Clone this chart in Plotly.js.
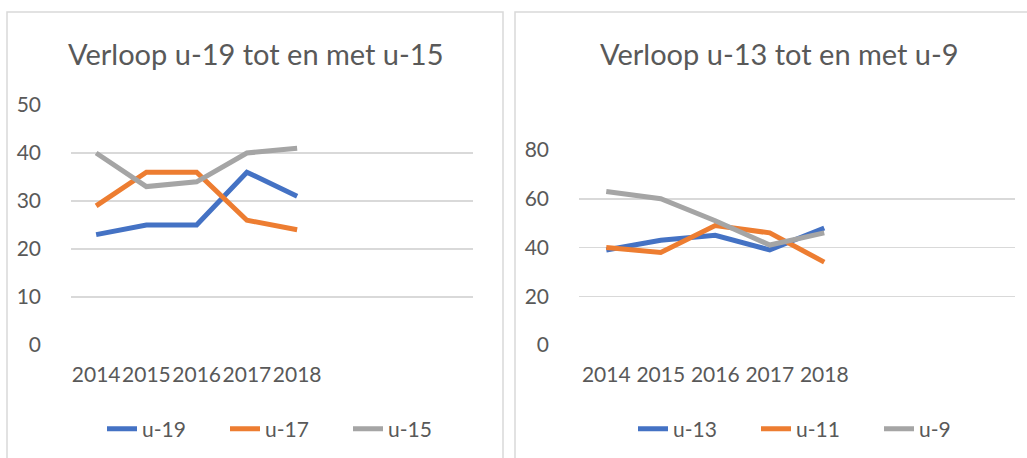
<!DOCTYPE html>
<html>
<head>
<meta charset="utf-8">
<script src="https://cdn.plot.ly/plotly-3.0.1.min.js"></script>
<style>html,body{margin:0;padding:0;background:#fff;}#chart{width:1027px;height:458px;}</style>
</head>
<body>
<div id="chart"></div>
<script>
// Data
const years = ["2014", "2015", "2016", "2017", "2018"];
const leftSeriesNames = ["u-19", "u-17", "u-15"];
const u19 = [23, 25, 25, 36, 31];
const u17 = [29, 36, 36, 26, 24];
const u15 = [40, 33, 34, 40, 41];
const rightSeriesNames = ["u-13", "u-11", "u-9"];
const u13 = [39, 43, 45, 39, 48];
const u11 = [40, 38, 49, 46, 34];
const u9  = [63, 60, 51, 41, 46];
const leftTitle = "Verloop u-19 tot en met u-15";
const rightTitle = "Verloop u-13 tot en met u-9";

const colors = ["#4472C4", "#ED7D31", "#A5A5A5"];
const FONT = "Lato, 'Open Sans', sans-serif";
const TXT = "#595959";
const W = 1027, H = 458;
const px = v => v / W;
const py = v => (H - v) / H;

const leftData = [u19, u17, u15];
const rightData = [u13, u11, u9];
const traces = [];
leftData.forEach((ys, i) => traces.push({
  x: years, y: ys, name: leftSeriesNames[i], type: "scatter", mode: "lines",
  line: {color: colors[i], width: 5}, xaxis: "x", yaxis: "y", legend: "legend"
}));
rightData.forEach((ys, i) => traces.push({
  x: years, y: ys, name: rightSeriesNames[i], type: "scatter", mode: "lines",
  line: {color: colors[i], width: 5}, xaxis: "x2", yaxis: "y2", legend: "legend2"
}));

const xCommon = {
  type: "category", range: [-0.5, 7.5], showgrid: false, zeroline: false,
  showline: false, ticks: "", ticklabelstandoff: 15, tickangle: 0,
  tickfont: {family: FONT, size: 21, color: TXT}, fixedrange: true
};
const yCommon = {
  showgrid: true, gridcolor: "#D9D9D9", gridwidth: 1.5, zeroline: false,
  showline: false, ticks: "", ticklabelstandoff: 29,
  tickfont: {family: FONT, size: 21, color: TXT}, fixedrange: true
};

const legendCommon = {
  orientation: "h", xanchor: "left", yanchor: "middle",
  font: {family: FONT, size: 21, color: TXT}, bgcolor: "rgba(0,0,0,0)",
  entrywidth: 78, entrywidthmode: "pixels", traceorder: "normal", itemwidth: 30
};

const layout = {
  width: W, height: H,
  margin: {l: 0, r: 0, t: 0, b: 0},
  paper_bgcolor: "#fff", plot_bgcolor: "rgba(0,0,0,0)",
  showlegend: true,
  xaxis: Object.assign({}, xCommon, {domain: [px(71), px(473)], anchor: "y"}),
  yaxis: Object.assign({}, yCommon, {domain: [py(345), py(105)], range: [0, 50], dtick: 10, anchor: "x"}),
  xaxis2: Object.assign({}, xCommon, {domain: [px(579), px(1015)], anchor: "y2"}),
  yaxis2: Object.assign({}, yCommon, {domain: [py(345), py(150)], range: [0, 80], dtick: 20, anchor: "x2"}),
  legend: Object.assign({}, legendCommon, {x: px(102), y: py(429)}),
  legend2: Object.assign({}, legendCommon, {x: px(633), y: py(429)}),
  annotations: [
    {text: leftTitle, xref: "paper", yref: "paper", x: px(255), y: py(53), xanchor: "center", yanchor: "middle",
     showarrow: false, font: {family: FONT, size: 29, color: TXT}},
    {text: rightTitle, xref: "paper", yref: "paper", x: px(779), y: py(53), xanchor: "center", yanchor: "middle",
     showarrow: false, font: {family: FONT, size: 29, color: TXT}}
  ],
  shapes: [
    {type: "rect", xref: "paper", yref: "paper", x0: px(7), x1: px(503), y0: -0.1, y1: py(12),
     line: {color: "#D9D9D9", width: 1.5}, fillcolor: "rgba(0,0,0,0)", layer: "below"},
    {type: "rect", xref: "paper", yref: "paper", x0: px(515), x1: 1.1, y0: -0.1, y1: py(12),
     line: {color: "#D9D9D9", width: 1.5}, fillcolor: "rgba(0,0,0,0)", layer: "below"}
  ]
};

Plotly.newPlot("chart", traces, layout, {displayModeBar: false, staticPlot: true});
</script>
</body>
</html>
